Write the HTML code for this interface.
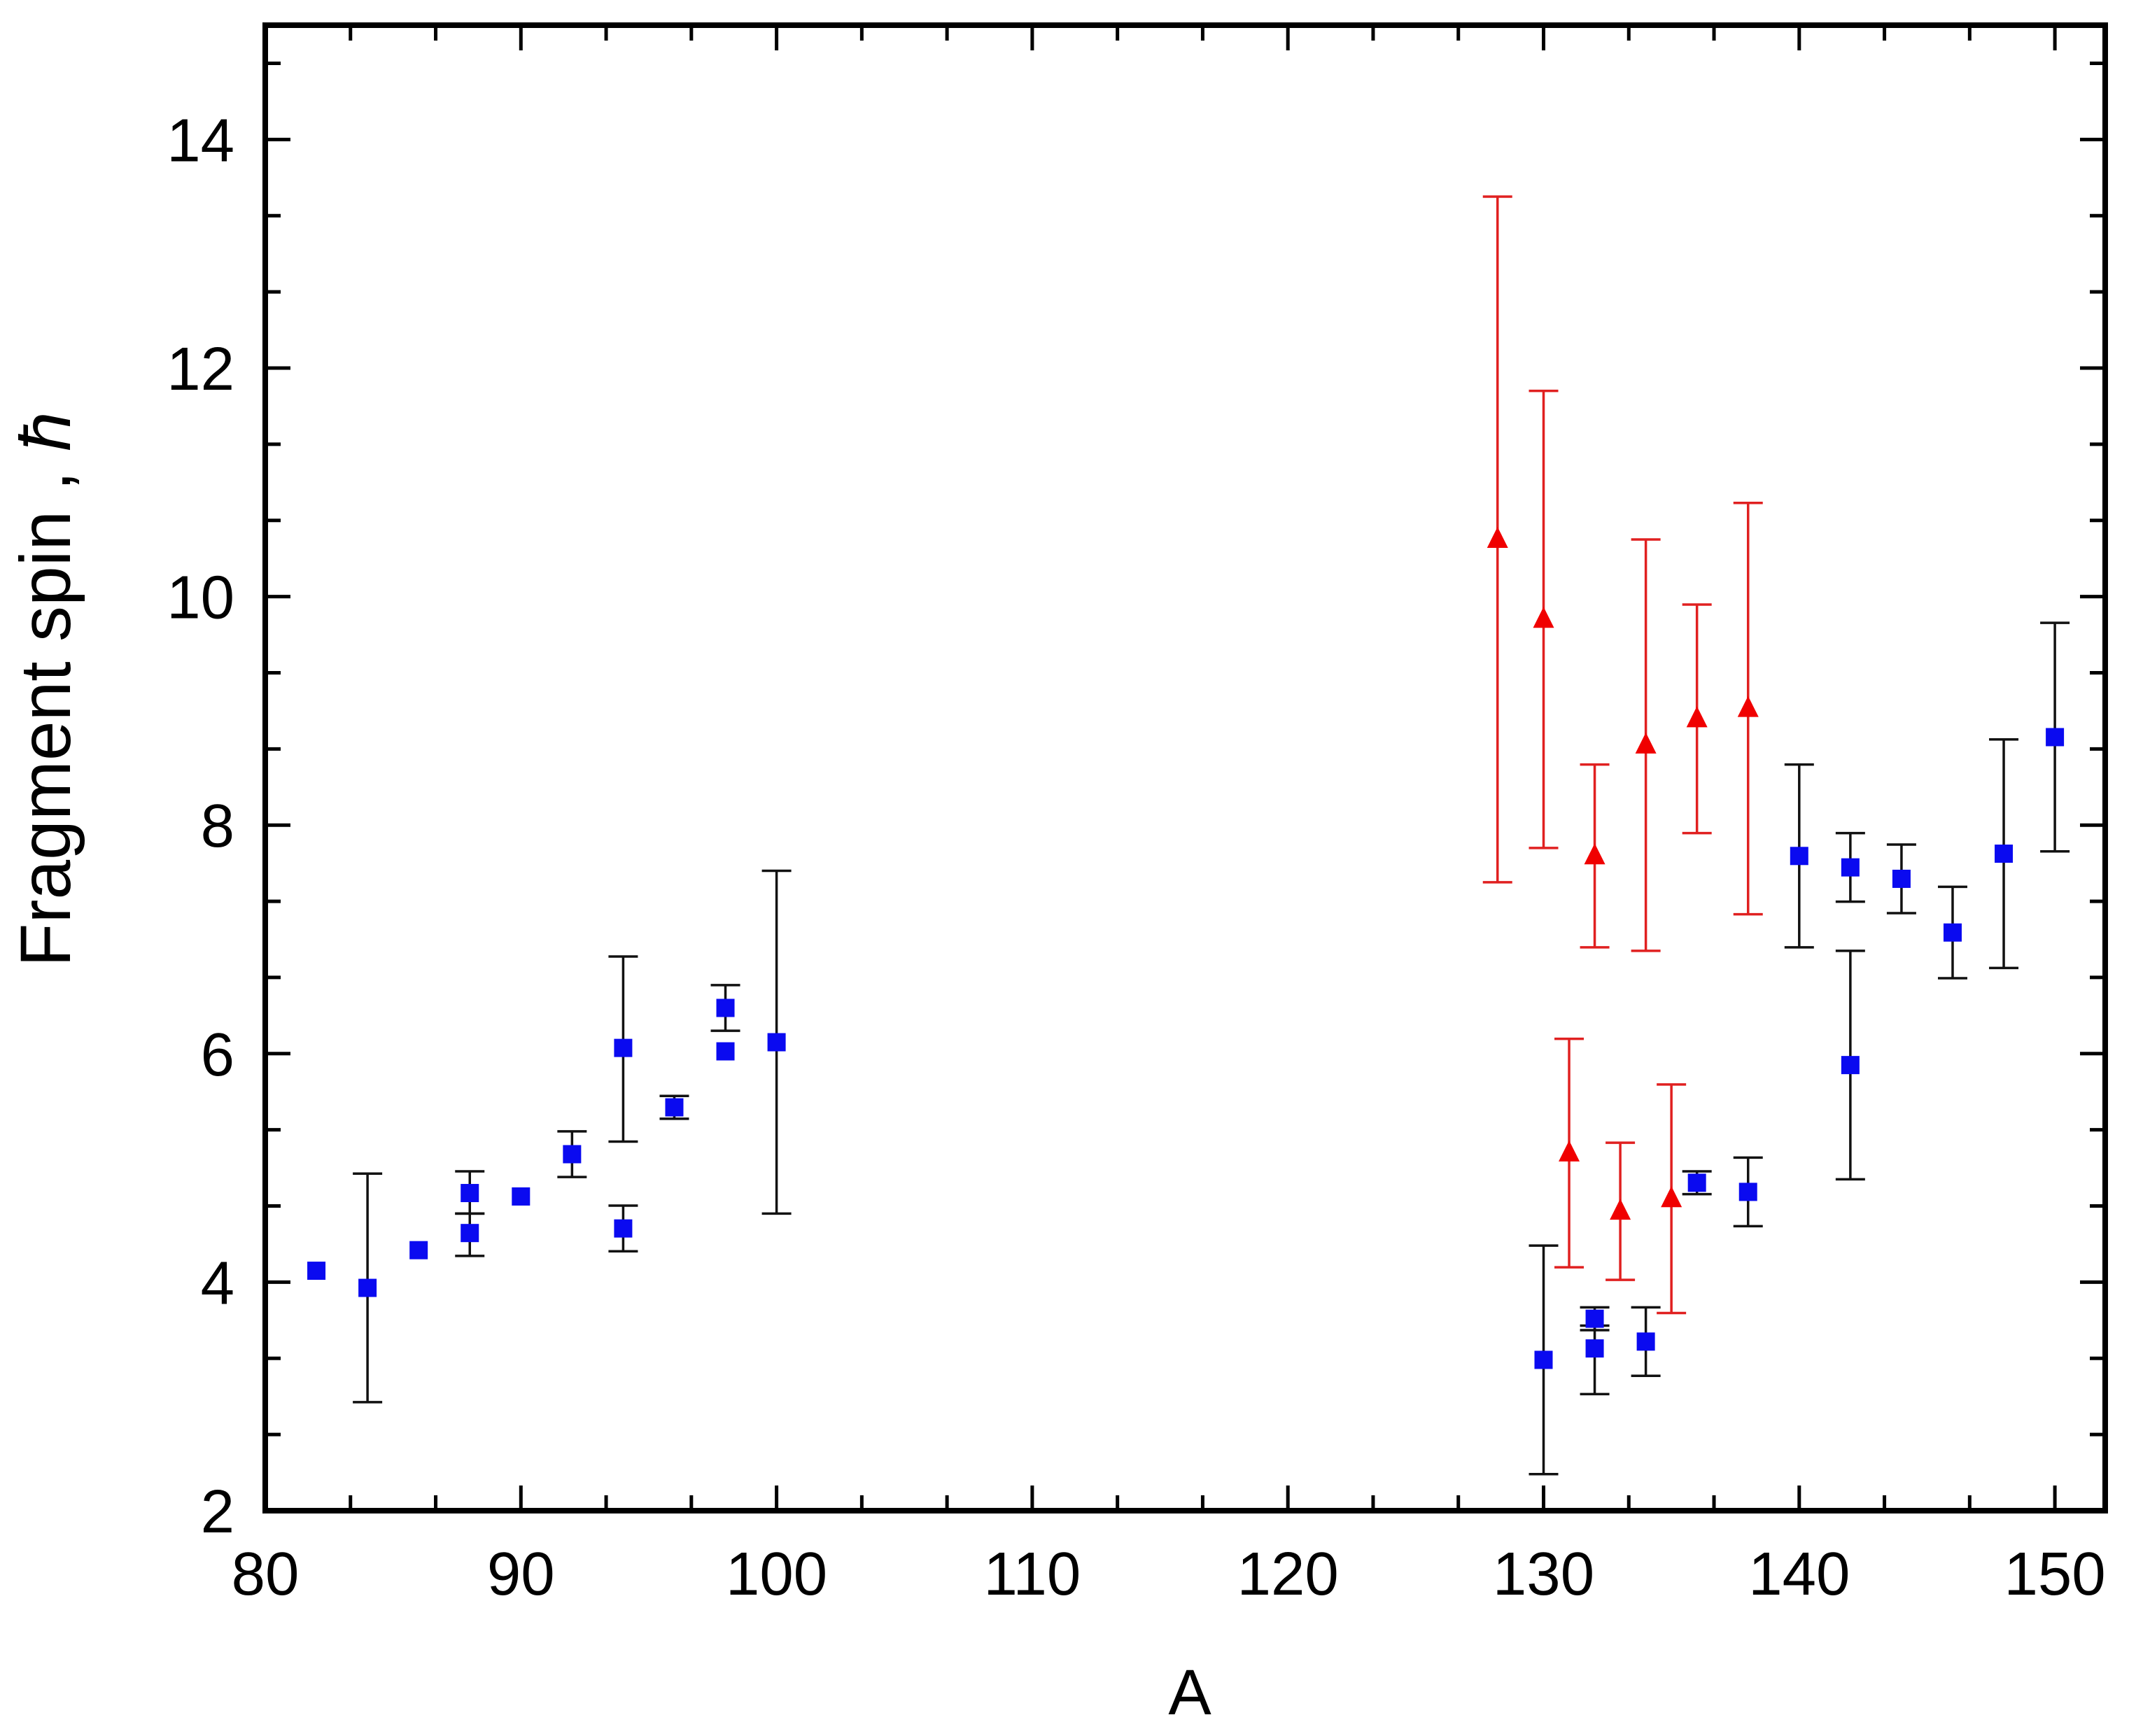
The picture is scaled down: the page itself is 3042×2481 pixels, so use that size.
<!DOCTYPE html>
<html><head><meta charset="utf-8"><style>
html,body{margin:0;padding:0;background:#fff;}
svg{display:block;}
text{font-family:"Liberation Sans",Arial,sans-serif;fill:#000;}
</style></head><body>
<svg id="s" width="3042" height="2481" viewBox="0 0 3042 2481" xmlns="http://www.w3.org/2000/svg"></svg>
<script>
const s=document.getElementById('s');
const L=379,R=3008,T=36,B=2159;
const X=v=>L+(v-80)*36.53, Y=v=>B-(v-2)*163.3;
let h='';
for(let i=0;i<=21;i++){const v=80+i*10/3;const x=X(v);const maj=i%3==0;const len=maj?36:22;
 h+=`<line x1="${x}" y1="${B}" x2="${x}" y2="${B-len}" stroke="#000" stroke-width="5"/>`;
 h+=`<line x1="${x}" y1="${T}" x2="${x}" y2="${T+len}" stroke="#000" stroke-width="5"/>`;
 if(maj) h+=`<text x="${x}" y="${B+120}" font-size="87" text-anchor="middle">${Math.round(v)}</text>`;}
for(let i=0;i<=19;i++){const v=2+i*2/3;const y=Y(v);const maj=i%3==0;const len=maj?36:22;
 h+=`<line x1="${L}" y1="${y}" x2="${L+len}" y2="${y}" stroke="#000" stroke-width="5"/>`;
 h+=`<line x1="${R}" y1="${y}" x2="${R-len}" y2="${y}" stroke="#000" stroke-width="5"/>`;
 if(maj) h+=`<text x="${L-44}" y="${y+31}" font-size="87" text-anchor="end">${Math.round(v)}</text>`;}
h+=`<rect x="${L}" y="${T}" width="${R-L}" height="${B-T}" fill="none" stroke="#000" stroke-width="8"/>`;
h+=`<text x="1700" y="2450" font-size="92" text-anchor="middle">A</text>`;
h+=`<text transform="translate(100,985) rotate(-90)" font-size="102" text-anchor="middle">Fragment spin , <tspan font-style="italic">ħ</tspan></text>`;
const blue=[[82,4.1],[84,3.95,2.95,4.95],[86,4.28],[88,4.78,4.6,4.97],[88,4.43,4.23,4.6],[90,4.75],[92,5.12,4.92,5.32],[94,6.05,5.23,6.85],[94,4.47,4.27,4.67],[96,5.53,5.43,5.63],[98,6.4,6.2,6.6],[98,6.02],[100,6.1,4.6,7.6],
[130,3.32,2.32,4.32],[132,3.68,3.58,3.78],[132,3.42,3.02,3.62],[134,3.48,3.18,3.78],[136,4.87,4.77,4.97],[138,4.79,4.49,5.09],[140,7.73,6.93,8.53],[142,7.63,7.33,7.93],[142,5.9,4.9,6.9],[144,7.53,7.23,7.83],[146,7.06,6.66,7.46],[148,7.75,6.75,8.75],[150,8.77,7.77,9.77]];
const red=[[128.2,10.5,7.5,13.5],[130,9.8,7.8,11.8],[132,7.73,6.93,8.53],[134,8.7,6.9,10.5],[136,8.93,7.93,9.93],[138,9.02,7.22,10.82],[131,5.13,4.13,6.13],[133,4.62,4.02,5.22],[135,4.73,3.73,5.73]];
function eb(p,c){if(p.length<3)return '';const x=X(p[0]);return `<line x1="${x}" y1="${Y(p[2])}" x2="${x}" y2="${Y(p[3])}" stroke="${c}" stroke-width="3.5"/><line x1="${x-21}" y1="${Y(p[2])}" x2="${x+21}" y2="${Y(p[2])}" stroke="${c}" stroke-width="3.5"/><line x1="${x-21}" y1="${Y(p[3])}" x2="${x+21}" y2="${Y(p[3])}" stroke="${c}" stroke-width="3.5"/>`;}
blue.forEach(p=>h+=eb(p,'#111'));
red.forEach(p=>h+=eb(p,'#e02020'));
blue.forEach(p=>{h+=`<rect x="${X(p[0])-13}" y="${Y(p[1])-13}" width="26" height="26" fill="#0a0af0"/>`;});
red.forEach(p=>{const x=X(p[0]),y=Y(p[1]);h+=`<polygon points="${x},${y-18} ${x+15},${y+12} ${x-15},${y+12}" fill="#f00000"/>`;});
s.innerHTML=h;
</script>
</body></html>
